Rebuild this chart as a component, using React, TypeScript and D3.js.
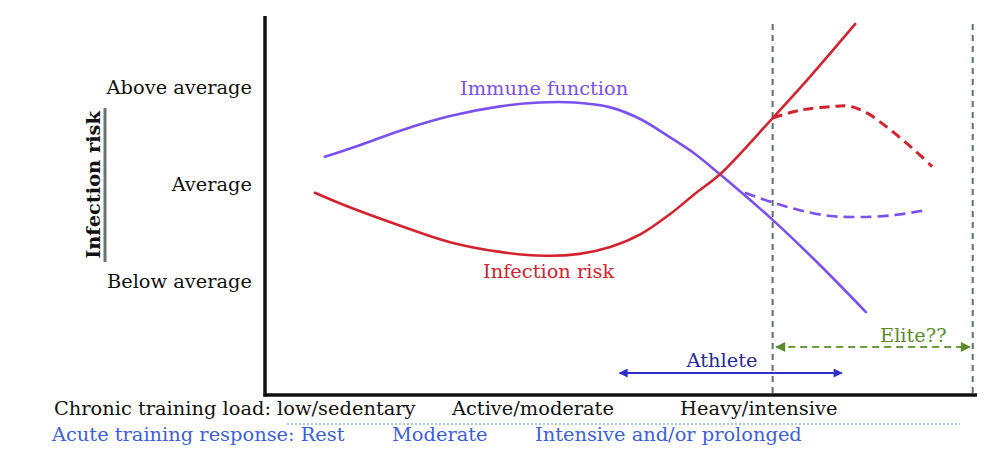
import * as d3 from "d3";

// x: training load (0-100), y: level (0 = below average, 1 = average, 2 = above average)
const immuneSolid: [number, number][] = [
  [8.4, 1.28], [13.3, 1.4], [19.0, 1.55], [26.0, 1.7], [33.0, 1.8], [38.6, 1.84],
  [43.5, 1.84], [48.5, 1.79], [52.7, 1.67], [56.9, 1.48], [60.4, 1.31], [63.9, 1.1],
  [71.3, 0.63], [78.0, 0.16], [84.4, -0.32],
];
const immuneDashed: [number, number][] = [
  [67.4, 0.91], [71.3, 0.81], [75.1, 0.73], [79.4, 0.67], [83.6, 0.66], [88.5, 0.68], [92.7, 0.73],
];
const infectionSolid: [number, number][] = [
  [7.0, 0.91], [11.9, 0.76], [19.0, 0.57], [26.0, 0.4], [33.0, 0.3], [39.3, 0.26],
  [44.2, 0.28], [48.5, 0.35], [52.7, 0.48], [56.9, 0.69], [60.4, 0.9], [63.9, 1.1],
  [71.3, 1.68], [76.6, 2.11], [82.9, 2.65],
];
const infectionDashed: [number, number][] = [
  [71.3, 1.68], [75.1, 1.76], [79.8, 1.8], [82.2, 1.8], [84.6, 1.73], [87.8, 1.56], [90.9, 1.37], [93.7, 1.18],
];

const levelLabels = ["Below average", "Average", "Above average"];
const levelValues = [0, 1, 2];
const chronicLabels = ["Chronic training load: low/sedentary", "Active/moderate", "Heavy/intensive"];
const acuteLabels = ["Acute training response: Rest", "Moderate", "Intensive and/or prolonged"];
const zoneBounds = [71.3, 99.4]; // athlete / elite boundaries
const athleteRange = [49.8, 81.0];
const eliteRange = [71.8, 99.0];

const W = 1000;
const H = 469;
const FONT = "'DejaVu Serif', serif";
const FS = 19.4;
const PURPLE = "#7b50ec";
const RED = "#d3232f";

export default function App() {
  const x = d3.scaleLinear().domain([0, 100]).range([265, 977]);
  const y = d3.scaleLinear().domain([0, 2]).range([281, 87]);
  const yTop = 16;
  const yBase = 395;

  const line = d3
    .line<[number, number]>()
    .x((d) => x(d[0]))
    .y((d) => y(d[1]))
    .curve(d3.curveCatmullRom.alpha(0.5));

  const chronicX = [54, 452, 680];
  const acuteX = [52, 392, 535];

  return (
    <svg width={W} height={H} style={{ display: "block", position: "absolute", left: 0, top: 0 }}>
      <defs>
        <marker id="blueHead" viewBox="0 0 10 10" refX="9" refY="5" markerWidth="6" markerHeight="4.5" orient="auto-start-reverse" markerUnits="strokeWidth">
          <path d="M0,0 L10,5 L0,10 Z" fill="#2f2fc4" />
        </marker>
        <marker id="greenHead" viewBox="0 0 10 10" refX="9" refY="5" markerWidth="6" markerHeight="5" orient="auto-start-reverse" markerUnits="strokeWidth">
          <path d="M0,0 L10,5 L0,10 Z" fill="#5b8a2e" />
        </marker>
      </defs>
      <rect width={W} height={H} fill="#fff" />

      {/* zone boundaries */}
      {zoneBounds.map((b) => (
        <line key={b} x1={x(b)} x2={x(b)} y1={24} y2={yBase} stroke="#5d7070" strokeWidth={2} strokeDasharray="6,5" />
      ))}

      {/* axes */}
      <line x1={x(0)} x2={x(0)} y1={yTop} y2={yBase + 1.5} stroke="#111" strokeWidth={3.5} />
      <line x1={x(0) - 1.5} x2={x(100)} y1={yBase} y2={yBase} stroke="#111" strokeWidth={3.5} />

      {/* curves */}
      <path d={line(immuneSolid) ?? ""} fill="none" stroke={PURPLE} strokeWidth={2.6} strokeLinecap="round" />
      <path d={line(immuneDashed) ?? ""} fill="none" stroke={PURPLE} strokeWidth={2.6} strokeDasharray="11,6" />
      <path d={line(infectionSolid) ?? ""} fill="none" stroke={RED} strokeWidth={2.6} strokeLinecap="round" />
      <path d={line(infectionDashed) ?? ""} fill="none" stroke={RED} strokeWidth={3} strokeDasharray="10,6" />

      {/* y level labels */}
      {levelValues.map((v, i) => (
        <text key={v} x={252} y={y(v) + 7} textAnchor="end" fontFamily={FONT} fontSize={FS} fill="#111">
          {levelLabels[i]}
        </text>
      ))}

      {/* y axis title */}
      <line x1={105} x2={105} y1={108} y2={262} stroke="#6b7272" strokeWidth={3} />
      <text transform="translate(100,185) rotate(-90)" textAnchor="middle" fontFamily={FONT} fontWeight="bold" fontSize={FS} fill="#111">
        Infection risk
      </text>

      {/* series labels */}
      <text x={460} y={95} fontFamily={FONT} fontSize={FS} fill={PURPLE}>Immune function</text>
      <text x={483} y={278} fontFamily={FONT} fontSize={FS} fill={RED}>Infection risk</text>

      {/* athlete / elite ranges */}
      <line x1={x(athleteRange[0])} x2={x(athleteRange[1])} y1={373} y2={373} stroke="#2f2fc4" strokeWidth={2} markerStart="url(#blueHead)" markerEnd="url(#blueHead)" />
      <text x={722} y={367} textAnchor="middle" fontFamily={FONT} fontSize={FS} fill="#28289a">Athlete</text>
      <line x1={x(eliteRange[0])} x2={x(eliteRange[1])} y1={347} y2={347} stroke="#6a9a3a" strokeWidth={2} strokeDasharray="7,5" markerStart="url(#greenHead)" markerEnd="url(#greenHead)" />
      <text x={880} y={342} fontFamily={FONT} fontSize={FS} fill="#5b8a2e">Elite??</text>

      {/* x category labels */}
      {chronicLabels.map((t, i) => (
        <text key={t} x={chronicX[i]} y={415} fontFamily={FONT} fontSize={FS} fill="#111">{t}</text>
      ))}
      <line x1={287} x2={960} y1={424} y2={424} stroke="#a8cbd4" strokeWidth={2} strokeDasharray="2,2" />
      {acuteLabels.map((t, i) => (
        <text key={t} x={acuteX[i]} y={441} fontFamily={FONT} fontSize={FS} fill="#3d5fd8">{t}</text>
      ))}
    </svg>
  );
}
